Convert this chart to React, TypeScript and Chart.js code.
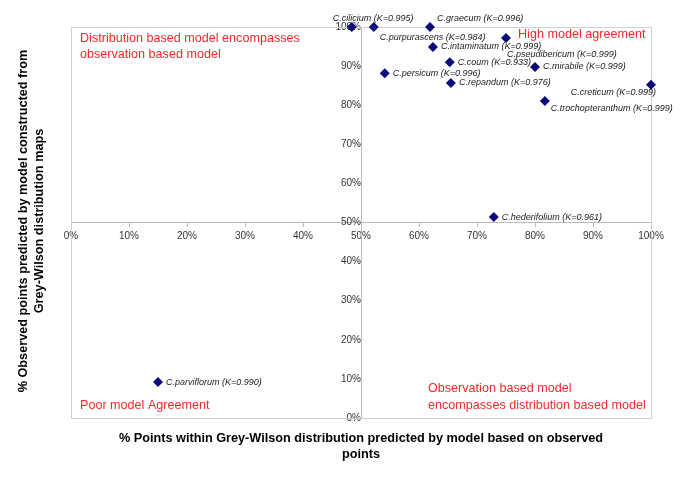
import React, { useEffect, useRef } from "react";
import { Chart, registerables } from "chart.js";

Chart.register(...registerables);

// Data (percentages)
const species = [
  "C.cilicium (K=0.995)",
  "C.purpurascens (K=0.984)",
  "C.graecum (K=0.996)",
  "C.pseudibericum (K=0.999)",
  "C.intaminatum (K=0.999)",
  "C.coum (K=0.933)",
  "C.mirabile (K=0.999)",
  "C.persicum (K=0.996)",
  "C.repandum (K=0.976)",
  "C.creticum (K=0.999)",
  "C.trochopteranthum (K=0.999)",
  "C.hederifolium (K=0.961)",
  "C.parviflorum (K=0.990)",
];
const xValues = [48.4, 52.2, 61.9, 75.0, 62.4, 65.3, 80.0, 54.1, 65.5, 100, 81.7, 72.9, 15.0];
const yValues = [100, 100, 100, 97.2, 94.9, 91.0, 89.8, 88.2, 85.7, 85.2, 81.1, 51.4, 9.2];
const tickValues = [0, 10, 20, 30, 40, 50, 60, 70, 80, 90, 100];

// Label placement (style only): [dx, dy, align]
const labelLayout: [number, number, CanvasTextAlign][] = [
  [-19, -9, "left"],
  [6, 10, "left"],
  [7, -9, "left"],
  [1, 17, "left"],
  [8, 0, "left"],
  [8, 0, "left"],
  [8, 0, "left"],
  [8, 0, "left"],
  [8, 0, "left"],
  [5, 8, "right"],
  [6, 8, "left"],
  [8, 0, "left"],
  [8, 0, "left"],
];

const FONT = "'Liberation Sans', Arial, sans-serif";

const overlayPlugin = {
  id: "overlay",
  beforeDatasetsDraw(chart: any) {
    const { ctx, chartArea } = chart;
    ctx.save();
    ctx.strokeStyle = "#cfcfcf";
    ctx.lineWidth = 1;
    ctx.strokeRect(
      Math.round(chartArea.left) + 0.5,
      Math.round(chartArea.top) + 0.5,
      Math.round(chartArea.right - chartArea.left),
      Math.round(chartArea.bottom - chartArea.top)
    );
    ctx.restore();
  },
  afterDraw(chart: any) {
    const { ctx } = chart;
    ctx.save();
    // quadrant annotations
    ctx.fillStyle = "#ee2a2a";
    ctx.font = `12.6px ${FONT}`;
    ctx.textBaseline = "middle";
    ctx.textAlign = "left";
    ctx.fillText("Distribution based model encompasses", 80, 39);
    ctx.fillText("observation based model", 80, 55);
    ctx.fillText("High model agreement", 518, 35);
    ctx.fillText("Poor model Agreement", 80, 406);
    ctx.fillText("Observation based model", 428, 389);
    ctx.fillText("encompasses distribution based model", 428, 406);

    // point labels
    const meta = chart.getDatasetMeta(0);
    ctx.fillStyle = "#222";
    ctx.font = `italic 9px ${FONT}`;
    meta.data.forEach((pt: any, i: number) => {
      const [dx, dy, align] = labelLayout[i];
      ctx.textAlign = align;
      ctx.fillText(species[i], pt.x + dx, pt.y + dy);
    });

    // axis titles
    ctx.fillStyle = "#000";
    ctx.font = `bold 12.7px ${FONT}`;
    ctx.textAlign = "center";
    ctx.fillText(
      "% Points within Grey-Wilson distribution predicted by model based on observed",
      361,
      438
    );
    ctx.fillText("points", 361, 454);
    ctx.save();
    ctx.translate(23, 221);
    ctx.rotate(-Math.PI / 2);
    ctx.fillText("% Observed points predicted by model constructed from", 0, 0);
    ctx.fillText("Grey-Wilson distribution maps", 0, 16);
    ctx.restore();
    ctx.restore();
  },
};

export default function App() {
  const ref = useRef<HTMLCanvasElement>(null);
  useEffect(() => {
    const canvas = ref.current!;
    const data = xValues.map((x, i) => ({ x, y: yValues[i] }));
    const chart = new Chart(canvas, {
      type: "scatter",
      data: {
        datasets: [
          {
            data,
            pointStyle: "rectRot",
            pointRadius: 5,
            backgroundColor: "#0b0b7a",
            borderColor: "#0b0b7a",
            borderWidth: 0,
            clip: false as any,
          },
        ],
      },
      options: {
        responsive: false,
        animation: false,
        layout: { padding: { left: 71, top: 27, right: 34, bottom: 66 } },
        plugins: { legend: { display: false }, tooltip: { enabled: false } },
        scales: {
          x: {
            type: "linear",
            position: { y: 50 } as any,
            min: 0,
            max: 100,
            afterBuildTicks: (s: any) => {
              s.ticks = tickValues.map((v) => ({ value: v }));
            },
            ticks: {
              callback: (v: any) => v + "%",
              font: { family: FONT, size: 10 },
              color: "#333",
              padding: 4,
              maxRotation: 0,
            },
            grid: { drawOnChartArea: false, drawTicks: true, tickLength: 4, color: "#bbb" },
            border: { color: "#bbb" },
          },
          y: {
            type: "linear",
            position: { x: 50 } as any,
            min: 0,
            max: 100,
            afterBuildTicks: (s: any) => {
              s.ticks = tickValues.map((v) => ({ value: v }));
            },
            ticks: {
              callback: (v: any) => v + "%",
              font: { family: FONT, size: 10 },
              color: "#333",
              padding: 7,
            },
            grid: { drawOnChartArea: false, drawTicks: true, tickLength: 4, color: "#bbb" },
            border: { color: "#bbb" },
          },
        },
      },
      plugins: [overlayPlugin],
    });
    return () => chart.destroy();
  }, []);
  return (
    <div style={{ position: "fixed", left: 0, top: 0, width: 685, height: 484, background: "#fff" }}>
      <canvas ref={ref} width={685} height={484} />
    </div>
  );
}
